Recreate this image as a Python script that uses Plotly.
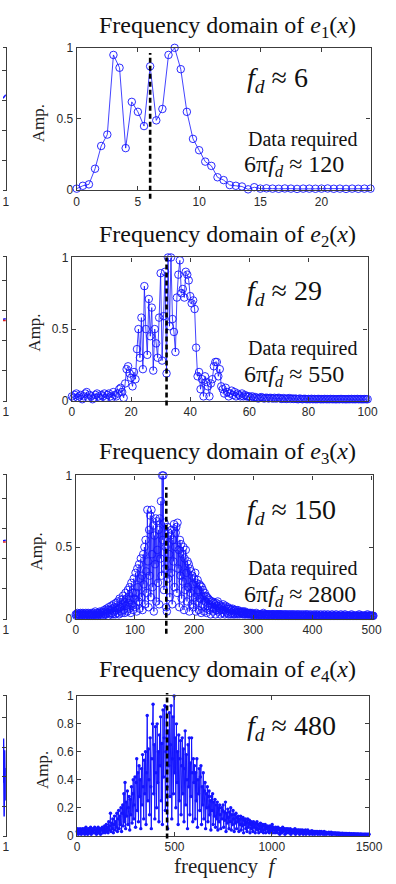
import plotly.graph_objects as go

# ---------------- data ----------------
# spectrum amplitudes sampled on uniform frequency grids (step per panel)
step1 = 0.5
amp1 = [0.01, 0.03, 0.04, 0.15, 0.31, 0.39, 0.95, 0.86, 0.295, 0.62,
        0.55, 0.45, 0.87, 0.49, 0.57, 0.95, 1.0, 0.85, 0.55, 0.36,
        0.28, 0.20, 0.17, 0.09, 0.07, 0.035, 0.03, 0.025, 0.005, 0.02,
        0.01, 0.012, 0.01, 0.009, 0.011, 0.01, 0.008, 0.01, 0.01, 0.009,
        0.01, 0.011, 0.009, 0.01, 0.008, 0.01, 0.009, 0.01, 0.01]

step2 = 0.5
amp2 = [0.03, 0.02, 0.04, 0.05, 0.02, 0.03, 0.04, 0.01, 0.03, 0.05,   # 0-4.5
        0.06, 0.02, 0.04, 0.03, 0.01, 0.02, 0.04, 0.05, 0.03, 0.02,   # 5-9.5
        0.04, 0.03, 0.05, 0.02, 0.04, 0.05, 0.03, 0.02, 0.06, 0.04,   # 10-14.5
        0.03, 0.05, 0.08, 0.09, 0.06, 0.02, 0.12, 0.22, 0.24, 0.19,   # 15-19.5
        0.16, 0.10, 0.20, 0.15, 0.36, 0.50, 0.30, 0.58, 0.22, 0.80,   # 20-24.5
        0.50, 0.32, 0.71, 0.45, 0.65, 0.21, 0.50, 0.40, 0.30, 0.58,   # 25-29.5
        0.89, 0.28, 0.59, 0.90, 0.19, 1.00, 0.52, 1.00, 0.57, 0.48,   # 30-34.5
        0.34, 0.72, 0.88, 0.98, 0.75, 0.78, 0.72, 0.90, 0.88, 0.84,   # 35-39.5
        0.73, 0.68, 0.70, 0.64, 0.37, 0.17, 0.20, 0.08, 0.15, 0.03,   # 40-44.5
        0.17, 0.13, 0.10, 0.03, 0.12, 0.15, 0.24, 0.27, 0.27, 0.17,   # 45-49.5
        0.22, 0.10, 0.08, 0.05, 0.09, 0.06, 0.03, 0.05, 0.07, 0.04,   # 50-54.5
        0.06, 0.03, 0.05, 0.04, 0.03, 0.05, 0.03, 0.04, 0.03, 0.03,   # 55-59.5
        0.03, 0.02, 0.03, 0.02, 0.025, 0.02, 0.015, 0.02, 0.025, 0.02,
        0.015, 0.02, 0.02, 0.015, 0.02, 0.018, 0.015, 0.02, 0.015, 0.018,
        0.02, 0.015, 0.012, 0.018, 0.015, 0.012, 0.015, 0.018, 0.012, 0.015,
        0.012, 0.015, 0.012, 0.01, 0.015, 0.012, 0.01, 0.013, 0.012, 0.01,
        0.012, 0.01, 0.013, 0.01, 0.012, 0.01, 0.011, 0.012, 0.01, 0.011,
        0.01, 0.012, 0.01, 0.011, 0.01, 0.012, 0.01, 0.011, 0.01, 0.01,
        0.011, 0.01, 0.012, 0.01, 0.011, 0.01, 0.01, 0.011, 0.01, 0.012,
        0.01, 0.011, 0.01, 0.012, 0.01, 0.011, 0.01, 0.01, 0.011, 0.01,
        0.01]

step3 = 1
amp3 = [0.03, 0.02, 0.03, 0.04, 0.02, 0.03, 0.03, 0.02, 0.04, 0.03,   # 0
        0.02, 0.03, 0.04, 0.03, 0.02, 0.03, 0.02, 0.04, 0.03, 0.02,   # 10
        0.03, 0.04, 0.02, 0.03, 0.03, 0.02, 0.04, 0.03, 0.02, 0.03,   # 20
        0.04, 0.02, 0.03, 0.05, 0.02, 0.03, 0.04, 0.02, 0.03, 0.04,   # 30
        0.03, 0.05, 0.02, 0.04, 0.03, 0.05, 0.02, 0.04, 0.06, 0.03,   # 40
        0.05, 0.03, 0.07, 0.04, 0.06, 0.02, 0.08, 0.04, 0.06, 0.03,   # 50
        0.09, 0.04, 0.07, 0.03, 0.10, 0.05, 0.08, 0.03, 0.11, 0.06,   # 60
        0.04, 0.12, 0.07, 0.03, 0.14, 0.08, 0.05, 0.13, 0.04, 0.10,   # 70
        0.16, 0.06, 0.12, 0.04, 0.18, 0.09, 0.14, 0.05, 0.20, 0.11,   # 80
        0.07, 0.22, 0.13, 0.04, 0.25, 0.10, 0.18, 0.06, 0.28, 0.14,   # 90
        0.08, 0.32, 0.18, 0.05, 0.35, 0.22, 0.12, 0.38, 0.07, 0.28,   # 100
        0.42, 0.15, 0.30, 0.06, 0.45, 0.24, 0.50, 0.10, 0.55, 0.33,   # 110
        0.18, 0.76, 0.40, 0.08, 0.62, 0.30, 0.72, 0.15, 0.76, 0.45,   # 120
        0.22, 0.65, 0.05, 0.58, 0.38, 0.70, 0.12, 0.68, 0.48, 0.25,   # 130
        0.62, 0.10, 0.70, 0.42, 0.82, 0.30, 1.00, 0.55, 1.00, 0.20,   # 140
        0.67, 0.35, 0.50, 0.08, 0.05, 0.64, 0.28, 0.60, 0.45, 0.15,   # 150
        0.58, 0.32, 0.62, 0.10, 0.55, 0.40, 0.66, 0.22, 0.50, 0.60,   # 160
        0.64, 0.18, 0.67, 0.35, 0.48, 0.08, 0.55, 0.30, 0.52, 0.14,   # 170
        0.45, 0.26, 0.50, 0.06, 0.42, 0.20, 0.48, 0.32, 0.12, 0.40,   # 180
        0.22, 0.38, 0.05, 0.35, 0.18, 0.33, 0.10, 0.30, 0.24, 0.08,   # 190
        0.28, 0.15, 0.32, 0.05, 0.25, 0.12, 0.27, 0.20, 0.06, 0.24,   # 200
        0.14, 0.23, 0.04, 0.22, 0.10, 0.20, 0.16, 0.05, 0.18, 0.12,   # 210
        0.16, 0.04, 0.15, 0.09, 0.14, 0.06, 0.13, 0.10, 0.03, 0.12,   # 220
        0.08, 0.12, 0.05, 0.11, 0.07, 0.10, 0.03, 0.11, 0.06, 0.09,   # 230
        0.12, 0.05, 0.10, 0.07, 0.03, 0.09, 0.06, 0.08, 0.04, 0.10,   # 240
        0.06, 0.08, 0.03, 0.09, 0.05, 0.07, 0.04, 0.08, 0.03, 0.07,   # 250
        0.05, 0.07, 0.03, 0.06, 0.04, 0.07, 0.03, 0.05, 0.06, 0.03,   # 260
        0.06, 0.04, 0.05, 0.03, 0.06, 0.04, 0.05, 0.03, 0.05, 0.04,   # 270
        0.04, 0.05, 0.03, 0.05, 0.04, 0.03, 0.05, 0.03, 0.04, 0.04,   # 280
        0.03, 0.04, 0.03, 0.04, 0.03, 0.04, 0.03, 0.03, 0.04, 0.03,   # 290
        0.03, 0.02, 0.03, 0.03, 0.02, 0.04, 0.03, 0.02, 0.03, 0.03,   # 300
        0.02, 0.03, 0.03, 0.02, 0.03, 0.02, 0.03, 0.04, 0.02, 0.03,   # 310
        0.03, 0.02, 0.03, 0.02, 0.03, 0.03, 0.02, 0.03, 0.02, 0.03,   # 320
        0.02, 0.03, 0.02, 0.03, 0.03, 0.02, 0.03, 0.02, 0.02, 0.03,   # 330
        0.03, 0.02, 0.03, 0.02, 0.03, 0.02, 0.03, 0.03, 0.02, 0.02,   # 340
        0.03, 0.02, 0.02, 0.03, 0.02, 0.03, 0.02, 0.02, 0.03, 0.02,   # 350
        0.02, 0.03, 0.02, 0.02, 0.03, 0.02, 0.02, 0.03, 0.02, 0.02,   # 360
        0.03, 0.02, 0.02, 0.02, 0.03, 0.02, 0.02, 0.03, 0.02, 0.02,   # 370
        0.02, 0.03, 0.02, 0.02, 0.02, 0.03, 0.02, 0.02, 0.02, 0.03,   # 380
        0.02, 0.02, 0.03, 0.02, 0.02, 0.02, 0.02, 0.03, 0.02, 0.02,   # 390
        0.02, 0.02, 0.02, 0.03, 0.02, 0.02, 0.02, 0.02, 0.03, 0.02,   # 400
        0.02, 0.02, 0.02, 0.02, 0.03, 0.02, 0.02, 0.02, 0.02, 0.02,   # 410
        0.03, 0.02, 0.02, 0.02, 0.02, 0.02, 0.03, 0.02, 0.02, 0.02,   # 420
        0.02, 0.02, 0.02, 0.03, 0.02, 0.02, 0.02, 0.02, 0.02, 0.02,   # 430
        0.03, 0.02, 0.02, 0.02, 0.02, 0.02, 0.02, 0.02, 0.03, 0.02,   # 440
        0.02, 0.02, 0.02, 0.02, 0.02, 0.03, 0.02, 0.02, 0.02, 0.02,   # 450
        0.02, 0.02, 0.02, 0.02, 0.02, 0.02, 0.03, 0.02, 0.02, 0.02,   # 460
        0.02, 0.02, 0.02, 0.02, 0.02, 0.02, 0.02, 0.02, 0.02, 0.03,   # 470
        0.02, 0.02, 0.02, 0.02, 0.02, 0.02, 0.02, 0.02, 0.02, 0.02,   # 480
        0.02, 0.02, 0.02, 0.03, 0.02, 0.02, 0.02, 0.02, 0.02, 0.02,   # 490
        0.02, 0.02, 0.02, 0.02]                                       # 500

step4 = 3
amp4 = [0.03, 0.05, 0.01, 0.04, 0.02, 0.05, 0.03, 0.01, 0.04, 0.05,   # 0
        0.02, 0.04, 0.05, 0.01, 0.03, 0.06, 0.02, 0.04, 0.01, 0.05,   # 30
        0.03, 0.05, 0.02, 0.06, 0.01, 0.04, 0.03, 0.05, 0.02, 0.04,   # 60
        0.06, 0.02, 0.04, 0.01, 0.05, 0.03, 0.06, 0.02, 0.05, 0.03,   # 90
        0.01, 0.05, 0.04, 0.06, 0.02, 0.05, 0.03, 0.07, 0.02, 0.05,   # 120
        0.08, 0.03, 0.06, 0.02, 0.10, 0.04, 0.07, 0.16, 0.03, 0.09,   # 150
        0.05, 0.12, 0.02, 0.08, 0.14, 0.04, 0.10, 0.06, 0.16, 0.03,   # 180
        0.12, 0.18, 0.05, 0.14, 0.08, 0.20, 0.03, 0.16, 0.22, 0.07,   # 210
        0.30, 0.10, 0.38, 0.05, 0.24, 0.14, 0.32, 0.08, 0.20, 0.28,   # 240
        0.04, 0.26, 0.15, 0.35, 0.09, 0.30, 0.40, 0.12, 0.22, 0.42,   # 270
        0.06, 0.38, 0.55, 0.18, 0.45, 0.10, 0.50, 0.28, 0.40, 0.05,   # 300
        0.48, 0.22, 0.58, 0.35, 0.12, 0.54, 0.30, 0.60, 0.08, 0.45,   # 330
        0.86, 0.25, 0.62, 0.40, 0.15, 0.70, 0.35, 0.05, 0.55, 0.80,   # 360
        0.94, 0.30, 0.65, 0.12, 0.78, 0.45, 0.20, 0.80, 0.38, 0.60,   # 390
        0.10, 0.72, 0.50, 0.85, 0.25, 0.66, 0.08, 0.90, 0.42, 0.70,   # 420
        0.93, 0.18, 0.60, 0.92, 0.35, 0.05, 0.75, 0.50, 0.88, 0.28,   # 450
        0.65, 0.93, 0.12, 0.55, 0.85, 0.30, 1.00, 0.45, 0.70, 0.20,   # 480
        0.80, 0.38, 0.60, 0.08, 0.72, 0.25, 0.55, 0.68, 0.15, 0.50,   # 510
        0.70, 0.30, 0.62, 0.10, 0.48, 0.75, 0.22, 0.58, 0.40, 0.05,   # 540
        0.65, 0.35, 0.70, 0.15, 0.52, 0.28, 0.70, 0.45, 0.10, 0.55,   # 570
        0.38, 0.50, 0.12, 0.45, 0.25, 0.55, 0.06, 0.40, 0.30, 0.48,   # 600
        0.18, 0.42, 0.50, 0.08, 0.35, 0.22, 0.45, 0.12, 0.32, 0.38,   # 630
        0.05, 0.30, 0.20, 0.35, 0.10, 0.28, 0.32, 0.15, 0.25, 0.04,   # 660
        0.28, 0.18, 0.30, 0.08, 0.24, 0.14, 0.26, 0.06, 0.22, 0.12,   # 690
        0.24, 0.04, 0.20, 0.10, 0.22, 0.15, 0.05, 0.20, 0.12, 0.18,   # 720
        0.22, 0.06, 0.17, 0.11, 0.24, 0.03, 0.16, 0.09, 0.19, 0.13,   # 750
        0.05, 0.17, 0.10, 0.20, 0.04, 0.15, 0.08, 0.18, 0.12, 0.03,   # 780
        0.15, 0.09, 0.16, 0.05, 0.13, 0.10, 0.14, 0.03, 0.12, 0.08,   # 810
        0.14, 0.04, 0.12, 0.07, 0.13, 0.02, 0.11, 0.08, 0.12, 0.05,   # 840
        0.10, 0.03, 0.12, 0.06, 0.09, 0.11, 0.02, 0.08, 0.10, 0.05,   # 870
        0.09, 0.03, 0.10, 0.06, 0.08, 0.02, 0.09, 0.05, 0.10, 0.04,   # 900
        0.08, 0.02, 0.07, 0.05, 0.09, 0.03, 0.07, 0.04, 0.08, 0.02,   # 930
        0.07, 0.04, 0.08, 0.02, 0.06, 0.05, 0.07, 0.03, 0.06, 0.02,   # 960
        0.07, 0.03, 0.06, 0.04, 0.08, 0.02, 0.06, 0.04, 0.05, 0.02,   # 990
        0.06, 0.03, 0.05, 0.02, 0.06, 0.04, 0.05, 0.01, 0.05, 0.03,   # 1020
        0.05, 0.02, 0.06, 0.03, 0.04, 0.05, 0.01, 0.04, 0.05, 0.02,   # 1050
        0.04, 0.05, 0.02, 0.04, 0.03, 0.05, 0.01, 0.04, 0.03, 0.04,   # 1080
        0.02, 0.04, 0.03, 0.05, 0.01, 0.04, 0.03, 0.02, 0.04, 0.03,   # 1110
        0.04, 0.01, 0.03, 0.04, 0.02, 0.03, 0.04, 0.01, 0.03, 0.02,   # 1140
        0.03, 0.04, 0.01, 0.03, 0.02, 0.04, 0.02, 0.03, 0.01, 0.03,   # 1170
        0.03, 0.02, 0.035, 0.01, 0.03, 0.02, 0.03, 0.01, 0.025, 0.03,  # 1200
        0.02, 0.03, 0.01, 0.025, 0.02, 0.03, 0.01, 0.02, 0.03, 0.015,  # 1230
        0.025, 0.01, 0.02, 0.03, 0.01, 0.02, 0.025, 0.01, 0.02, 0.015,  # 1260
        0.02, 0.025, 0.01, 0.02, 0.015, 0.025, 0.008, 0.02, 0.015, 0.02,  # 1290
        0.01, 0.02, 0.015, 0.02, 0.008, 0.018, 0.012, 0.02, 0.008, 0.015,  # 1320
        0.018, 0.008, 0.015, 0.012, 0.018, 0.006, 0.015, 0.01, 0.016, 0.008,  # 1350
        0.015, 0.01, 0.016, 0.006, 0.014, 0.01, 0.015, 0.006, 0.013, 0.01,  # 1380
        0.014, 0.006, 0.013, 0.009, 0.014, 0.005, 0.012, 0.009, 0.013, 0.006,  # 1410
        0.012, 0.008, 0.013, 0.005, 0.011, 0.008, 0.012, 0.005, 0.011, 0.007,  # 1440
        0.011, 0.005, 0.01, 0.008, 0.011, 0.005, 0.01, 0.007, 0.01, 0.005,  # 1470
        0.01]                                                               # 1500

# frequency of the dashed marker and the quoted f_d / data requirement
f_peak = [6, 32, 153, 462]
fd_text = ["6", "29", "150", "480"]
data_text = ["120", "550", "2800", None]

x_ranges = [[0, 24], [0, 100], [0, 503], [0, 1500]]
x_ticks = [[0, 5, 10, 15, 20], [0, 20, 40, 60, 80, 100],
           [0, 100, 200, 300, 400, 500], [0, 500, 1000, 1500]]
y_ticks = [[0, 0.5, 1], [0, 0.5, 1], [0, 0.5, 1], [0, 0.2, 0.4, 0.6, 0.8, 1]]

# right-hand ends of the neighbouring (left column) signal plots
side_x = [[0.99, 1.0], [0.99, 1.0], [0.99, 1.0],
          [0.99, 0.992, 0.994, 0.996, 0.998, 1.0]]
side_blue = [[1.07, 1.18], [0.70, 0.72], [0.58, 0.60],
             [-0.2, 1.3, -1.35, 0.9, -0.8, 0.3]]
side_red = [None, [0.66, 0.66], [0.54, 0.54], None]

# ---------------- layout helpers ----------------
W, H = 396, 884
SERIF = "Liberation Serif, Times New Roman, serif"
SANS = "Liberation Sans, Arial, Helvetica, sans-serif"
BLUE = "#1414ff"
FRAME = "#3c3c3c"
TXT = "#111111"

# panel boxes in pixels: left, right, top, bottom
boxes = [(77, 384, 41.5, 186), (72, 381, 254.5, 400),
         (76, 387, 476, 621.5), (77.5, 382.5, 700, 842)]
dash_span = [(-0.062, 0.964), (-0.034, 1.0), (-0.106, 0.918), (-0.02, 1.02)]
title_y = [20.5, 233, 453.5, 675]
amp_x = [38, 32, 35, 42]
fd_y = [74, 290, 513, 732]
req_y = [135, 347, 571]
eq_y = [162, 375, 598]


def px_x(v):
    return v / W


def px_y(v):
    return 1 - v / H


fig = go.Figure()
layout = dict(width=W, height=H, margin=dict(l=0, r=0, t=0, b=0),
              paper_bgcolor="white", plot_bgcolor="white",
              showlegend=False, annotations=[], shapes=[])

series = [(amp1, step1), (amp2, step2), (amp3, step3), (amp4, step4)]

frame_axis = dict(showline=True, linecolor=FRAME, linewidth=1.3,
                  ticks="inside", ticklen=4, tickwidth=1, tickcolor=FRAME,
                  showgrid=False, zeroline=False,
                  tickfont=dict(family=SANS, size=12, color="#2a2a2a"))

for i, (amp, step) in enumerate(series):
    n = i + 1
    xa = "x" if n == 1 else f"x{n}"
    ya = "y" if n == 1 else f"y{n}"
    freq = [k * step for k in range(len(amp))]
    if n < 4:
        marker = dict(symbol="circle-open", size=7.5, color=BLUE,
                      line=dict(width=0.9, color=BLUE))
        lw = 0.8
    else:
        marker = dict(symbol="circle", size=3.4, color=BLUE)
        lw = 1.0
    fig.add_trace(go.Scatter(x=freq, y=amp, mode="lines+markers",
                             line=dict(color=BLUE, width=lw),
                             marker=marker, cliponaxis=False,
                             xaxis=xa, yaxis=ya, hoverinfo="skip"))

    l, r, t, b = boxes[i]
    layout["xaxis" if n == 1 else f"xaxis{n}"] = dict(
        domain=[px_x(l), px_x(r)], range=x_ranges[i], anchor=ya,
        tickvals=x_ticks[i], mirror="ticks", **frame_axis)
    layout["yaxis" if n == 1 else f"yaxis{n}"] = dict(
        domain=[px_y(b), px_y(t)], range=[0, 1], anchor=xa,
        tickvals=y_ticks[i], mirror="ticks", **frame_axis)

    # dashed marker of the dominant frequency
    lo, hi = dash_span[i]
    layout["shapes"].append(dict(type="line", xref=xa, yref=f"{ya} domain",
                                 x0=f_peak[i], x1=f_peak[i], y0=lo, y1=hi,
                                 line=dict(color="black", width=2.6,
                                           dash="5px,3px")))

    # panel title
    layout["annotations"].append(dict(
        x=px_x(234.5), y=px_y(title_y[i]), xref="paper", yref="paper",
        text=f"Frequency domain of <i>e</i><sub>{n}</sub>(<i>x</i>)",
        showarrow=False, font=dict(family=SERIF, size=24, color=TXT),
        xanchor="center", yanchor="middle"))
    # y label
    layout["annotations"].append(dict(
        x=px_x(amp_x[i]), y=px_y((t + b) / 2 + 4),
        xref="paper", yref="paper", text="Amp.", textangle=-90,
        showarrow=False, font=dict(family=SERIF, size=17, color="#222"),
        xanchor="center", yanchor="middle"))
    # dominant frequency text
    layout["annotations"].append(dict(
        x=px_x(253), y=px_y(fd_y[i]), xref="paper", yref="paper",
        text=f"<i>f</i><sub><i>d</i></sub> ≈ {fd_text[i]}",
        showarrow=False, font=dict(family=SERIF, size=28, color=TXT),
        xanchor="left", yanchor="middle"))
    if data_text[i] is not None:
        layout["annotations"].append(dict(
            x=px_x(313), y=px_y(req_y[i]), xref="paper", yref="paper",
            text="Data required", showarrow=False,
            font=dict(family=SERIF, size=20, color=TXT),
            xanchor="center", yanchor="middle"))
        layout["annotations"].append(dict(
            x=px_x(250), y=px_y(eq_y[i]), xref="paper", yref="paper",
            text=f"6π<i>f</i><sub><i>d</i></sub> ≈ {data_text[i]}",
            showarrow=False, font=dict(family=SERIF, size=24, color=TXT),
            xanchor="left", yanchor="middle"))

    # sliver of the neighbouring signal plot at the left edge
    sx = f"x{n + 4}"
    sy = f"y{n + 4}"
    layout[f"xaxis{n + 4}"] = dict(
        domain=[0, px_x(3)], range=[0.99, 1.0], anchor=sy,
        tickvals=[1], ticktext=["1"], mirror=True, **{**frame_axis, "ticks": ""})
    layout[f"yaxis{n + 4}"] = dict(
        domain=[px_y(b), px_y(t)], range=[-2, 2.75], anchor=sx, side="right",
        tickvals=[-2, -1, 0, 1, 2], showticklabels=False, mirror=False,
        **frame_axis)
    fig.add_trace(go.Scatter(x=side_x[i], y=side_blue[i], mode="lines",
                             line=dict(color=BLUE, width=1.5),
                             xaxis=sx, yaxis=sy, hoverinfo="skip"))
    if side_red[i] is not None:
        fig.add_trace(go.Scatter(x=side_x[i], y=side_red[i], mode="lines",
                                 line=dict(color="#e02020", width=1.5),
                                 xaxis=sx, yaxis=sy, hoverinfo="skip"))

# x label of the bottom panel
layout["annotations"].append(dict(
    x=px_x(232), y=px_y(873), xref="paper", yref="paper",
    text="frequency  <i>f</i>", showarrow=False,
    font=dict(family=SERIF, size=21, color="#222"),
    xanchor="center", yanchor="middle"))

fig.update_layout(**layout)
fig.write_html("out.html")
